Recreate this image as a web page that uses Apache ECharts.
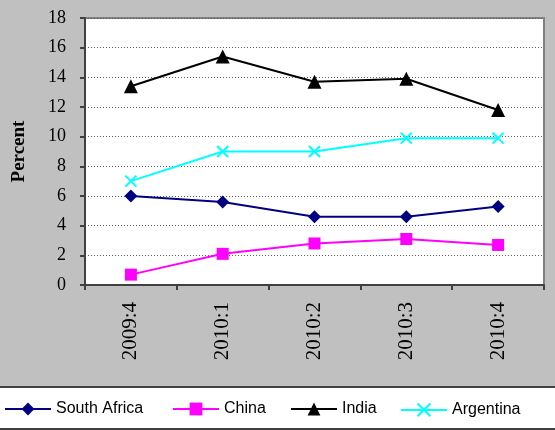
<!DOCTYPE html>
<html>
<head>
<meta charset="utf-8">
<script src="https://cdn.jsdelivr.net/npm/echarts@6/dist/echarts.min.js"></script>
<style>
  html, body { margin: 0; padding: 0; background: #c0c0c0; }
  #chart { width: 555px; height: 430px; }
</style>
</head>
<body>
<div id="chart"></div>
<script>
// Quarterly figures, percent
const quarters = ['2009:4', '2010:1', '2010:2', '2010:3', '2010:4'];
const southAfrica = [6.0, 5.6, 4.6, 4.6, 5.3];
const china = [0.7, 2.1, 2.8, 3.1, 2.7];
const india = [13.4, 15.4, 13.7, 13.9, 11.8];
const argentina = [7.0, 9.0, 9.0, 9.9, 9.9];
const yTicks = { min: 0, max: 18, interval: 2 };

const chart = echarts.init(document.getElementById('chart'), null, { renderer: 'canvas' });

const crossPath = 'path://M0,0L10,10M10,0L0,10';

function lineSeries(name, data, color, symbol, size) {
  return {
    name: name,
    type: 'line',
    data: data,
    symbol: symbol,
    symbolSize: size,
    showAllSymbol: true,
    lineStyle: { color: color, width: 2 },
    itemStyle: { color: color, borderWidth: 0 },
    emphasis: { disabled: true },
    animation: false
  };
}

function legendAt(name, left) {
  return {
    data: [name],
    left: left,
    top: 401,
    padding: 0,
    itemWidth: 46,
    itemHeight: 16,
    itemGap: 0,
    textStyle: { fontFamily: 'Liberation Sans, Arial, sans-serif', fontSize: 16, color: '#000' },
    selectedMode: false
  };
}

chart.setOption({
  backgroundColor: '#c0c0c0',
  animation: false,
  graphic: [{
    type: 'rect',
    shape: { x: -2, y: 387, width: 560, height: 42 },
    style: { fill: '#ffffff', stroke: '#404040', lineWidth: 2 },
    z: 0
  }],
  grid: {
    left: 85, right: 11, top: 18, bottom: 145,
    show: true,
    backgroundColor: '#ffffff',
    borderColor: '#808080',
    borderWidth: 2
  },
  legend: [
    legendAt('South Africa', 4),
    legendAt('China', 172),
    legendAt('India', 290),
    legendAt('Argentina', 400)
  ],
  xAxis: {
    type: 'category',
    data: quarters,
    boundaryGap: true,
    axisLine: { lineStyle: { color: '#404040', width: 2 } },
    axisTick: { show: true, length: 5, lineStyle: { color: '#404040', width: 2 } },
    axisLabel: {
      rotate: 90,
      margin: 17,
      color: '#000',
      fontFamily: 'Liberation Serif, Times New Roman, serif',
      fontSize: 21
    }
  },
  yAxis: {
    type: 'value',
    min: yTicks.min,
    max: yTicks.max,
    interval: yTicks.interval,
    name: 'Percent',
    nameLocation: 'middle',
    nameGap: 56,
    nameRotate: 90,
    nameTextStyle: {
      fontFamily: 'Liberation Serif, Times New Roman, serif',
      fontWeight: 'bold',
      fontSize: 19,
      color: '#000'
    },
    axisLine: { show: true, lineStyle: { color: '#404040', width: 2 } },
    axisTick: { show: true, length: 5, lineStyle: { color: '#404040', width: 2 } },
    axisLabel: {
      margin: 19,
      color: '#000',
      fontFamily: 'Liberation Serif, Times New Roman, serif',
      fontSize: 18
    },
    splitLine: { show: true, lineStyle: { color: '#606060', type: [1, 2], width: 1 } }
  },
  series: [
    lineSeries('South Africa', southAfrica, '#000080', 'diamond', 13),
    lineSeries('China', china, '#ff00ff', 'rect', 12),
    lineSeries('India', india, '#000000', 'triangle', 14),
    Object.assign(lineSeries('Argentina', argentina, '#00ffff', crossPath, 11), {
      itemStyle: { color: 'none', borderColor: '#00ffff', borderWidth: 2 }
    })
  ]
});
</script>
</body>
</html>
